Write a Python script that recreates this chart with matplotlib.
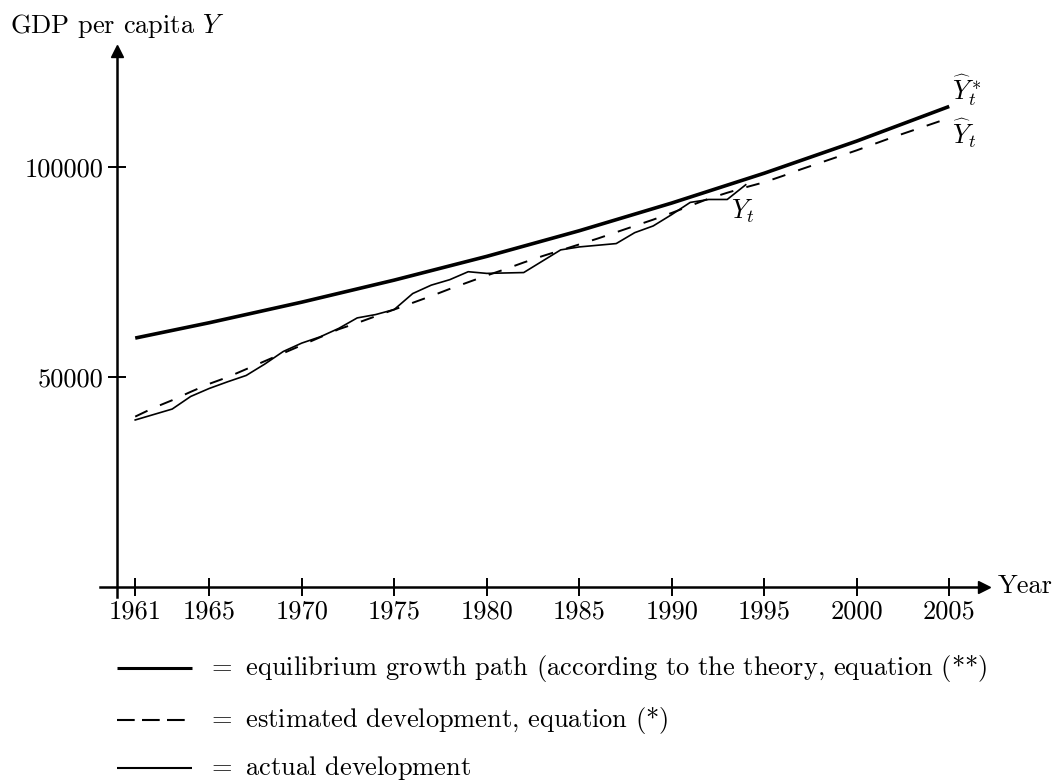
import matplotlib
matplotlib.use('Agg')
import matplotlib.pyplot as plt
from matplotlib.lines import Line2D

plt.rcParams['font.family'] = 'serif'
plt.rcParams['font.serif'] = ['cmr10']
plt.rcParams['mathtext.fontset'] = 'cm'
plt.rcParams['axes.formatter.use_mathtext'] = True
plt.rcParams['font.size'] = 19

# equilibrium growth path (read at knots)
eq_years = [1961, 1965, 1970, 1975, 1980, 1985, 1990, 1995, 2000, 2005]
eq_values = [59200, 62850, 67750, 73000, 78650, 84750, 91350, 98450, 106100, 114350]

# estimated development, equation (*)
est_years = list(range(1961, 2006))
est_values = [40500, 42600, 44400, 46400, 48300, 49900, 51800, 53700, 55600, 57500,
              59400, 61300, 62800, 64400, 66000, 67600, 69200, 70900, 72500, 74100,
              75600, 77200, 78700, 80100, 81500, 82900, 84400, 85900, 87400, 89000,
              90700, 92400, 93800, 95100, 96300, 97800, 99400, 100900, 102400, 103900,
              105500, 107100, 108600, 110100, 111600]

# actual development
act_years = list(range(1961, 1995))
act_values = [39700, 41000, 42300, 45300, 47200, 48800, 50300, 53000, 56000, 58000,
              59500, 61500, 64000, 64800, 66000, 69800, 71800, 73100, 75000, 74600,
              74700, 74800, 77500, 80200, 80900, 81300, 81700, 84300, 85900, 88600,
              91500, 92200, 92200, 95700]

x_ticks = [1961, 1965, 1970, 1975, 1980, 1985, 1990, 1995, 2000, 2005]
y_ticks = [50000, 100000]

fig = plt.figure(figsize=(10.53, 7.8), dpi=100)
ax = fig.add_axes([0.09497, 0.2350, 0.8395, 0.6996])

ax.plot(eq_years, eq_values, color='black', lw=2.6, solid_capstyle='butt')
ax.plot(est_years, est_values, color='black', lw=1.4, dashes=(7, 7))
ax.plot(act_years, act_values, color='black', lw=1.2)

ax.set_xlim(1959.097, 2006.88)
ax.set_ylim(-2381, 127550)

# axes through the origin with arrows
ax.spines['left'].set_position(('data', 1960))
ax.spines['bottom'].set_position(('data', 0))
ax.spines['top'].set_visible(False)
ax.spines['right'].set_visible(False)
for s in ['left', 'bottom']:
    ax.spines[s].set_linewidth(1.8)
ax.plot(1, 0, '>k', ms=9, transform=ax.get_yaxis_transform(), clip_on=False)
ax.plot(1960, 1, '^k', ms=9, transform=ax.get_xaxis_transform(), clip_on=False)

ax.set_xticks(x_ticks)
ax.set_xticklabels([str(t) for t in x_ticks])
ax.set_yticks(y_ticks)
ax.set_yticklabels([str(t) for t in y_ticks])
ax.tick_params(direction='inout', length=13.5, width=1.4, pad=3)

# curve labels
ax.text(2005.15, 118300, r'$\widehat{Y}_t^*$', ha='left', va='center', fontsize=19)
ax.text(2005.15, 107900, r'$\widehat{Y}_t$', ha='left', va='center', fontsize=19)
ax.text(1993.2, 89500, r'$Y_t$', ha='left', va='center', fontsize=19)

fig.text(10 / 1053, 1 - 33 / 780, r'GDP per capita $Y$', va='baseline', ha='left')
fig.text(998 / 1053, 1 - 593 / 780, 'Year', va='baseline', ha='left')

# legend drawn below the chart
rows = [
    (668, dict(lw=2.2), r'$=$ equilibrium growth path (according to the theory, equation (**)'),
    (720, dict(lw=1.5, dashes=(8.5, 3.5)), r'$=$ estimated development, equation (*)'),
    (768, dict(lw=1.5), r'$=$ actual development'),
]
for y, style, label in rows:
    fy = 1 - y / 780
    fig.add_artist(Line2D([116.7 / 1053, 191.7 / 1053], [fy, fy], color='black',
                          transform=fig.transFigure, solid_capstyle='butt', **style))
    fig.text(207 / 1053, 1 - (y + 7) / 780, label, va='baseline', ha='left')

fig.savefig('out.png', dpi=100)
